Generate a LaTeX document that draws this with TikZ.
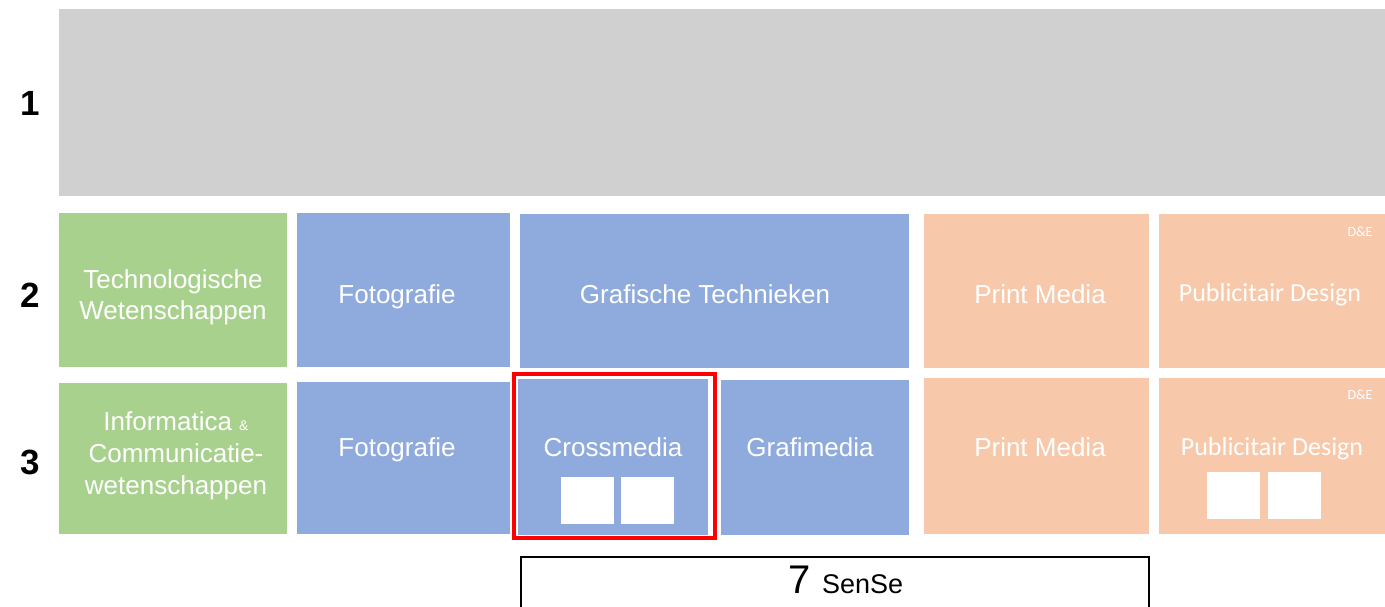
\documentclass[tikz,border=0pt]{standalone}
\usepackage{fontspec}
\setmainfont{Liberation Sans}
\newfontfamily\calib{Carlito}
\definecolor{cgray}{HTML}{D0D0D0}
\definecolor{cgreen}{HTML}{A9D18E}
\definecolor{cblue}{HTML}{8FAADC}
\definecolor{csalmon}{HTML}{F7C9AA}
\definecolor{cred}{HTML}{FF0000}
\tikzset{
  box/.style={inner sep=0pt, outer sep=0pt, draw=none, text=white, align=center, font=\fontsize{26}{31}\selectfont},
  gbox/.style={box, fill=cgreen},
  bbox/.style={box, fill=cblue},
  sbox/.style={box, fill=csalmon},
  wsq/.style={inner sep=0pt, outer sep=0pt, fill=white, minimum width=53pt, minimum height=47pt},
  rowlab/.style={font=\fontsize{35}{35}\selectfont\bfseries, text=black},
  de/.style={font=\calib\fontsize{14}{14}\selectfont, text=white},
  txt/.style={text=white, font=\fontsize{26}{31}\selectfont, align=center}
}
\begin{document}
\begin{tikzpicture}[x=1pt,y=-1pt]
\useasboundingbox (0,0) rectangle (1385,606);
\fill[white] (0,0) rectangle (1385,606);
% row 1
\node[box, fill=cgray, minimum width=1326pt, minimum height=187pt] (r1) at (722,102.5) {};
\node[rowlab] (l1) at (30,103) {1};
\node[rowlab] (l2) at (30,295) {2};
\node[rowlab] (l3) at (30,462) {3};
% row 2
\node[gbox, minimum width=228pt, minimum height=154pt] (tw) at (173,290) {};
\node[txt] (twt) at (173,297) {Technologische\\Wetenschappen};
\node[bbox, minimum width=213pt, minimum height=154pt] (f2) at (403.5,290) {};
\node[txt] (f2t) at (397,297) {Fotografie};
\node[bbox, minimum width=389pt, minimum height=154pt] (gt) at (714.5,291) {};
\node[txt] (gtt) at (705,294) {Grafische Technieken};
\node[sbox, minimum width=225pt, minimum height=154pt] (pm2) at (1036.5,291) {};
\node[txt] (pm2t) at (1040,294) {Print Media};
\node[sbox, minimum width=226pt, minimum height=154pt] (pd2) at (1272,291) {};
\node[txt, font=\calib\fontsize{26}{31}\selectfont] (pd2t) at (1270,295) {Publicitair Design};
\node[de] (de2) at (1360,232) {D\&E};
% row 3
\node[gbox, minimum width=228pt, minimum height=151pt] (ic) at (173,458.5) {};
\node[txt, font=\fontsize{26}{32}\selectfont] (ict) at (176,456) {Informatica {\fontsize{14}{14}\selectfont\&}\\Communicatie-\\wetenschappen};
\node[bbox, minimum width=213pt, minimum height=152pt] (f3) at (403.5,458) {};
\node[txt] (f3t) at (397,450) {Fotografie};
\node[bbox, minimum width=190pt, minimum height=156pt] (cm) at (613,457) {};
\node[txt] (cmt) at (613,447) {Crossmedia};
\node[wsq] (cms1) at (587.5,500.5) {};
\node[wsq] (cms2) at (647.5,500.5) {};
\node[bbox, minimum width=188pt, minimum height=155pt] (gm) at (815,457.5) {};
\node[txt] (gmt) at (810,447) {Grafimedia};
\node[sbox, minimum width=225pt, minimum height=156pt] (pm3) at (1036.5,456) {};
\node[txt] (pm3t) at (1040,447) {Print Media};
\node[sbox, minimum width=226pt, minimum height=156pt] (pd3) at (1272,456) {};
\node[txt, font=\calib\fontsize{26}{31}\selectfont] (pd3t) at (1272,449) {Publicitair Design};
\node[wsq] (pds1) at (1233.5,495.5) {};
\node[wsq] (pds2) at (1294.5,495.5) {};
\node[de] (de3) at (1360,395) {D\&E};
% red frame
\node[draw=cred, line width=4pt, inner sep=0pt, minimum width=201pt, minimum height=164pt] (frame) at (614.5,456) {};
% SenSe
\node[draw=black, line width=2pt, inner sep=0pt, minimum width=628pt, minimum height=58pt] (sense) at (835,586) {};
\node[text=black] (senset) at (846,580) {\fontsize{40}{40}\selectfont 7 \fontsize{27}{27}\selectfont SenSe};
\end{tikzpicture}
\end{document}
